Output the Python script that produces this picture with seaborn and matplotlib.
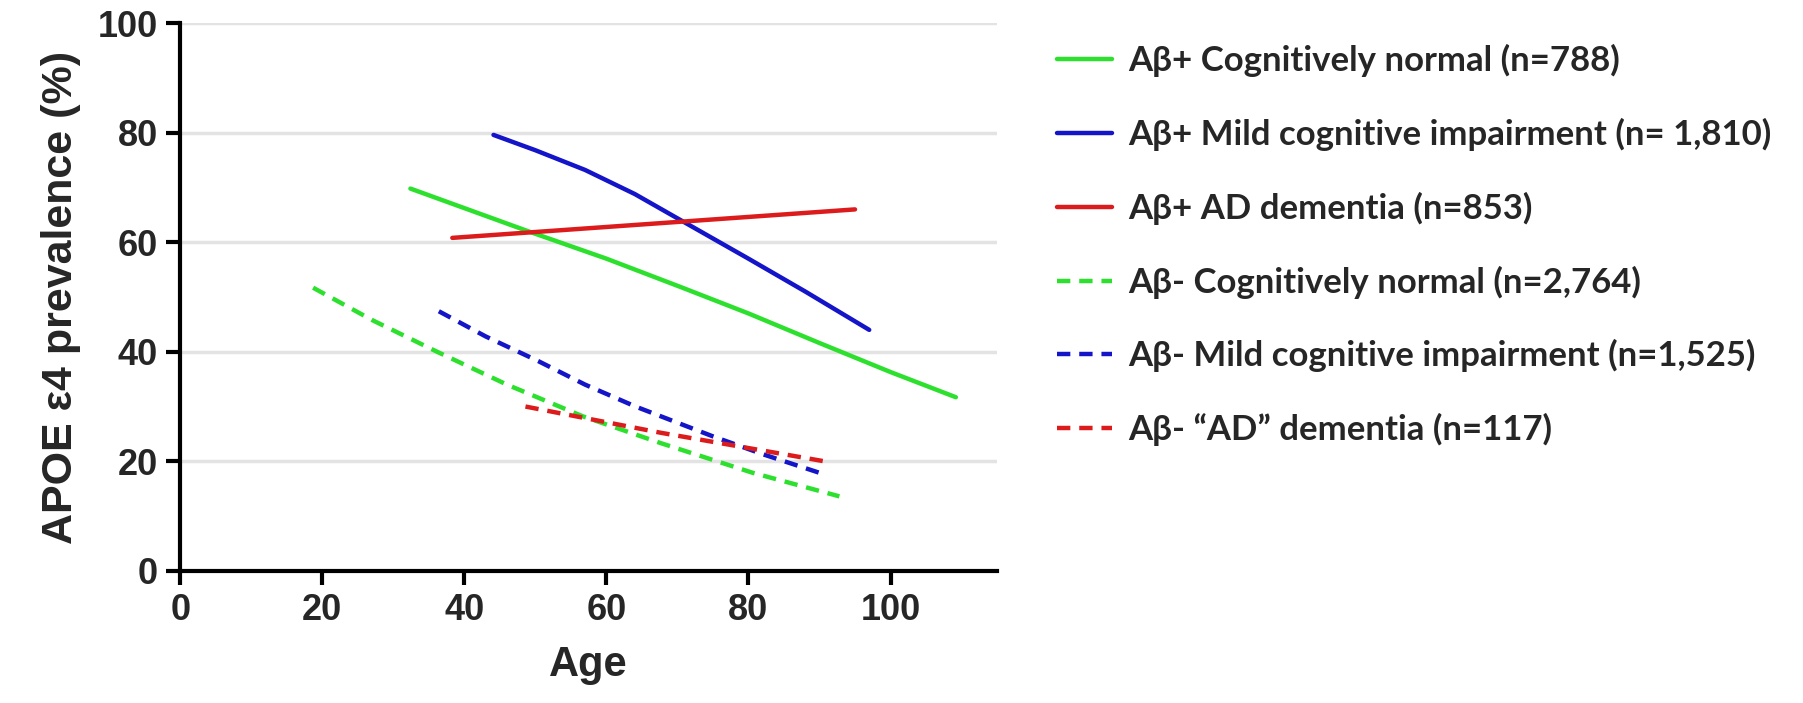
import numpy as np
import pandas as pd
import matplotlib
matplotlib.use('Agg')
import matplotlib.pyplot as plt
import seaborn as sns

# --- data ---
age_pos_cn = [32.4, 49, 60, 70.5, 80, 90, 100, 109.2]
apoe_pos_cn = [69.8, 62.0, 57.0, 51.8, 47.0, 41.6, 36.3, 31.7]

age_pos_mci = [44.1, 50, 57, 64, 70.5, 80, 88, 97.0]
apoe_pos_mci = [79.6, 76.8, 73.2, 68.8, 64.0, 57.0, 51.0, 44.0]

age_pos_ad = [38.3, 95.0]
apoe_pos_ad = [60.8, 66.0]

age_neg_cn = [18.7, 27, 36.0, 46, 56.7, 67.7, 80.6, 92.8]
apoe_neg_cn = [51.7, 45.8, 40.1, 34.0, 28.2, 23.3, 17.9, 13.6]

age_neg_mci = [36.4, 43, 50.4, 57, 64.1, 74.9, 82, 90.0]
apoe_neg_mci = [47.4, 42.8, 38.3, 34.0, 30.0, 24.6, 21.3, 17.9]

age_neg_ad = [48.6, 67.7, 90.7]
apoe_neg_ad = [30.0, 25.2, 20.0]

labels = [
    'Aβ+ Cognitively normal (n=788)',
    'Aβ+ Mild cognitive impairment (n= 1,810)',
    'Aβ+ AD dementia (n=853)',
    'Aβ- Cognitively normal (n=2,764)',
    'Aβ- Mild cognitive impairment (n=1,525)',
    'Aβ- \u201cAD\u201d dementia (n=117)',
]
colors = ['#2ee02e', '#1414c8', '#dc1c1c', '#2ee02e', '#1414c8', '#dc1c1c']
dashed = [False, False, False, True, True, True]

series = [
    (age_pos_cn, apoe_pos_cn), (age_pos_mci, apoe_pos_mci), (age_pos_ad, apoe_pos_ad),
    (age_neg_cn, apoe_neg_cn), (age_neg_mci, apoe_neg_mci), (age_neg_ad, apoe_neg_ad),
]

sns.set_style('white')
plt.rcParams['font.family'] = ['Liberation Sans', 'DejaVu Sans']

fig = plt.figure(figsize=(18.03, 7.03), dpi=100)
ax = fig.add_axes([0.100, 0.188, 0.453, 0.779])

for (x, y), lab, c, d in zip(series, labels, colors, dashed):
    df = pd.DataFrame({'Age': x, 'APOE': y})
    sns.lineplot(data=df, x='Age', y='APOE', ax=ax, color=c, label=lab,
                 linewidth=3.2, linestyle=(0, (3, 2)) if d else '-',
                 legend=False)

ax.set_xlim(0, 115)
ax.set_ylim(0, 100)
ax.set_xticks(np.arange(0, 101, 20))
ax.set_yticks(np.arange(0, 101, 20))
ax.yaxis.grid(True, color='#e3e3e3', linewidth=2.5)
ax.set_axisbelow(True)
for s in ['top', 'right']:
    ax.spines[s].set_visible(False)
for s in ['left', 'bottom']:
    ax.spines[s].set_color('black')
    ax.spines[s].set_linewidth(3)
ax.tick_params(axis='both', direction='out', length=10, width=3, color='black',
               labelsize=26, pad=6, left=True, bottom=True)
for t in ax.get_xticklabels() + ax.get_yticklabels():
    t.set_fontweight('bold')
ax.set_xlabel('Age', fontsize=30, fontweight='bold', labelpad=12)
ax.set_ylabel('APOE ε4 prevalence (%)', fontsize=31, fontweight='bold', labelpad=12)

handles, labs = ax.get_legend_handles_labels()
leg = fig.legend(handles, labs, loc='upper left', bbox_to_anchor=(0.586, 0.937),
                 frameon=False, borderpad=0, borderaxespad=0,
                 handlelength=1.6, handletextpad=0.45, labelspacing=1.17,
                 prop={'family': 'Lato', 'weight': 'bold', 'size': 25})

fig.savefig('out.png', dpi=100)
